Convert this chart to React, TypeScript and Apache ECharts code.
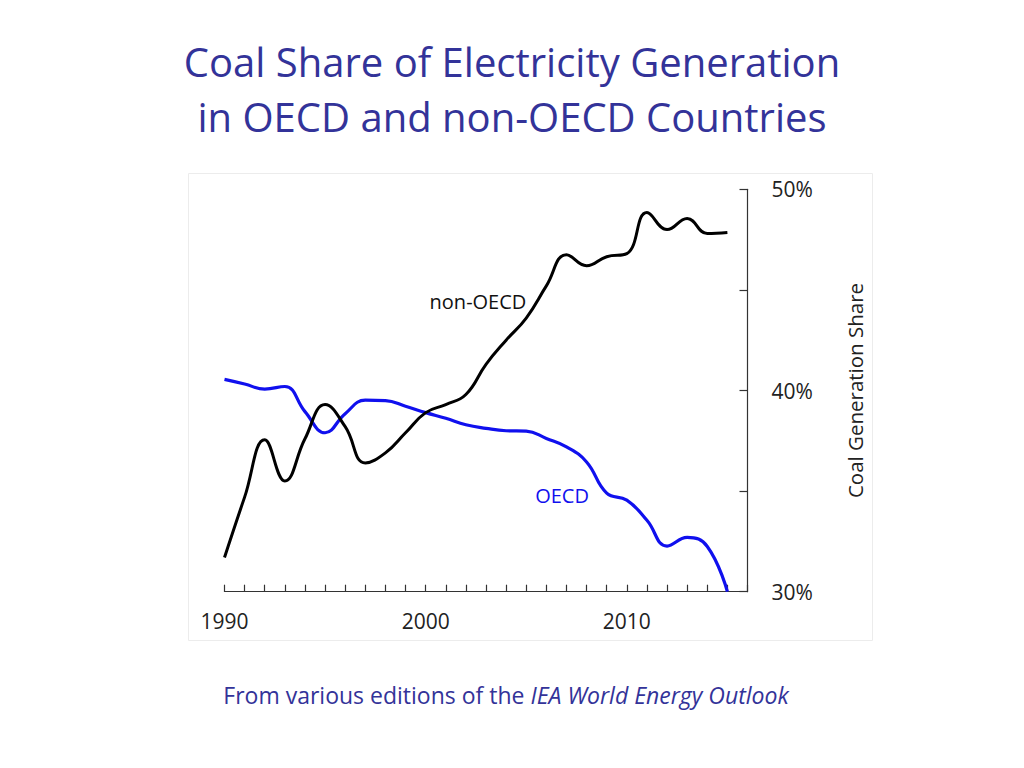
import React, { useEffect, useRef } from "react";
import * as echarts from "echarts";

const years = [1990, 1991, 1992, 1993, 1994, 1995, 1996, 1997, 1998, 1999, 2000, 2001, 2002, 2003, 2004, 2005, 2006, 2007, 2008, 2009, 2010, 2011, 2012, 2013, 2014, 2015];
const nonOecd = [31.7, 34.7, 37.55, 35.5, 37.6, 39.3, 38.2, 36.4, 36.9, 37.9, 38.9, 39.3, 39.8, 41.3, 42.5, 43.6, 45.2, 46.75, 46.2, 46.65, 46.8, 48.85, 48.0, 48.55, 47.8, 47.85];
const oecd = [40.55, 40.32, 40.07, 40.2, 38.95, 37.9, 38.85, 39.52, 39.5, 39.22, 38.9, 38.62, 38.3, 38.12, 38.0, 37.98, 37.62, 37.2, 36.45, 34.9, 34.55, 33.55, 32.27, 32.7, 32.25, 30.0];
const xLabels = [1990, 2000, 2010];
const yLabels = [30, 40, 50];

const FONT = "Open Sans";
const TEXT_BLUE = "#333399";

export default function App() {
  const ref = useRef<HTMLDivElement>(null);
  useEffect(() => {
    if (!ref.current) return;
    const chart = echarts.init(ref.current, undefined, { renderer: "svg" });
    chart.setOption({
      animation: false,
      backgroundColor: "#ffffff",
      textStyle: { fontFamily: FONT },
      title: [
        {
          text: "Coal Share of Electricity Generation\nin OECD and non-OECD Countries",
          left: "center",
          top: 29,
          textStyle: { fontFamily: FONT, fontSize: 40, fontWeight: "normal", color: TEXT_BLUE, lineHeight: 55 },
        },
        {
          text: "{n|From various editions of the }{i|IEA World Energy Outlook}",
          left: 501,
          textAlign: "center",
          top: 677,
          textStyle: {
            fontWeight: "normal",
            rich: {
              n: { fontFamily: FONT, fontSize: 23, color: TEXT_BLUE, fontWeight: "normal", lineHeight: 26 },
              i: { fontFamily: FONT, fontSize: 23, color: TEXT_BLUE, fontStyle: "italic", fontWeight: "normal", lineHeight: 26 },
            },
          },
        },
      ],
      graphic: [
        {
          type: "rect",
          z: -10,
          shape: { x: 188.5, y: 173.5, width: 684, height: 467 },
          style: { fill: "none", stroke: "#ececec", lineWidth: 1 },
        },
      ],
      grid: { left: 224.5, top: 189.3, width: 523, height: 402.4 },
      xAxis: {
        type: "value",
        min: 1990,
        max: 2016,
        interval: 1,
        axisLine: { show: true, lineStyle: { color: "#333", width: 1.2 } },
        axisTick: { show: true, inside: true, length: 7, lineStyle: { color: "#333", width: 1.2 } },
        splitLine: { show: false },
        axisLabel: {
          margin: 19,
          fontSize: 21,
          fontFamily: FONT,
          color: "#222",
          formatter: (v: number) => (xLabels.includes(v) ? String(v) : ""),
        },
      },
      yAxis: {
        type: "value",
        position: "right",
        min: 30,
        max: 50,
        interval: 5,
        name: "Coal Generation Share",
        nameLocation: "middle",
        nameRotate: 90,
        nameGap: 97,
        nameTextStyle: { fontFamily: FONT, fontSize: 20.5, color: "#222" },
        axisLine: { show: true, lineStyle: { color: "#333", width: 1.2 } },
        axisTick: { show: true, inside: true, length: 8, lineStyle: { color: "#333", width: 1.2 } },
        splitLine: { show: false },
        axisLabel: {
          margin: 24,
          fontSize: 21,
          fontFamily: FONT,
          color: "#222",
          formatter: (v: number) => (yLabels.includes(v) ? v + "%" : ""),
        },
      },
      series: [
        {
          name: "non-OECD",
          type: "line",
          data: years.map((y, i) => [y, nonOecd[i]]),
          smooth: 0.45,
          showSymbol: false,
          lineStyle: { color: "#000000", width: 3 },
          z: 3,
          markPoint: {
            symbol: "circle",
            symbolSize: 1,
            itemStyle: { color: "rgba(0,0,0,0)" },
            label: { show: true, position: "inside", formatter: "non-OECD", fontFamily: FONT, fontSize: 20, color: "#111" },
            data: [{ coord: [2002.6, 44.4] }],
          },
        },
        {
          name: "OECD",
          type: "line",
          data: years.map((y, i) => [y, oecd[i]]),
          smooth: 0.45,
          showSymbol: false,
          lineStyle: { color: "#1010ee", width: 3.2 },
          z: 2,
          markPoint: {
            symbol: "circle",
            symbolSize: 1,
            itemStyle: { color: "rgba(0,0,0,0)" },
            label: { show: true, position: "inside", formatter: "OECD", fontFamily: FONT, fontSize: 20, color: "#1010ee" },
            data: [{ coord: [2006.78, 34.8] }],
          },
        },
      ],
    });
    return () => chart.dispose();
  }, []);
  return <div ref={ref} style={{ position: "fixed", left: 0, top: 0, width: 1024, height: 768 }} />;
}
